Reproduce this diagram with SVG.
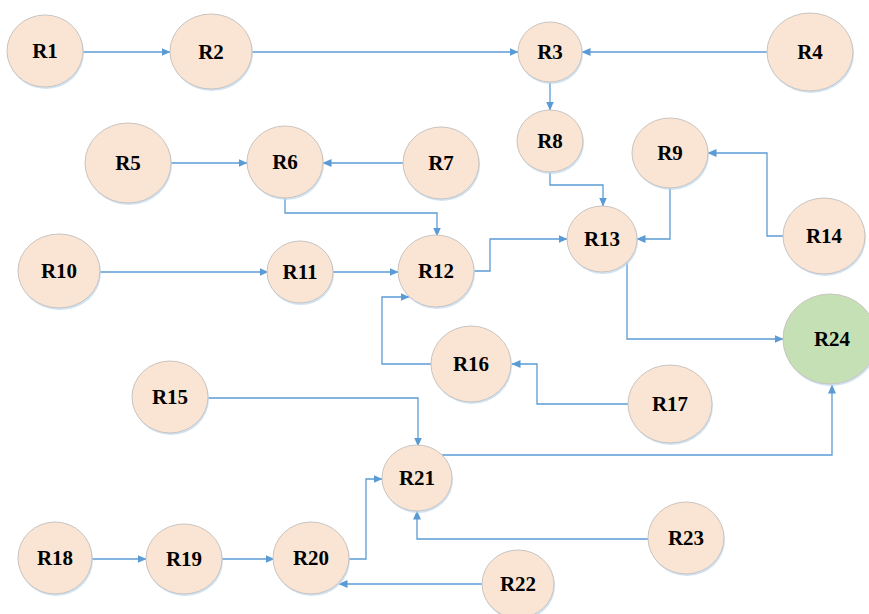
<svg xmlns="http://www.w3.org/2000/svg" width="869" height="614" viewBox="0 0 869 614">
<style>
.n{fill:#FAE5D5;stroke:#C9C4C0;stroke-width:1}
.g{fill:#C5E0B4;stroke:#C9C4C0;stroke-width:1}
.s{fill:#BDD7EE;opacity:0.7}
.t{font-family:"Liberation Serif","Times New Roman",serif;font-weight:bold;font-size:21px;fill:#000;text-anchor:middle}
.c{fill:none;stroke:#5B9BD5;stroke-width:1.3;marker-end:url(#a)}
</style>
<defs>
<marker id="a" markerUnits="userSpaceOnUse" markerWidth="9" markerHeight="8" refX="8.5" refY="4" orient="auto">
<path d="M0,0 L9,4 L0,8 z" fill="#5B9BD5"/>
</marker>
</defs>
<rect width="869" height="614" fill="#fff"/>
<g id="connectors">
<path class="c" d="M83,52 H170"/>
<path class="c" d="M252,52 H518"/>
<path class="c" d="M767,52 H582"/>
<path class="c" d="M550,82 V110"/>
<path class="c" d="M550,172 V185 H603 V206"/>
<path class="c" d="M670,188 V239 H637"/>
<path class="c" d="M783,236 H767 V153 H708"/>
<path class="c" d="M171,163 H247"/>
<path class="c" d="M403,163 H323"/>
<path class="c" d="M285,198 V213 H437 V236"/>
<path class="c" d="M100,272 H268"/>
<path class="c" d="M333,272 H398"/>
<path class="c" d="M474,271 H490 V239 H567"/>
<path class="c" d="M431,364 H382 V297 H409"/>
<path class="c" d="M627,262 V339 H783"/>
<path class="c" d="M628,404 H537 V364 H512"/>
<path class="c" d="M208,398 H418 V446"/>
<path class="c" d="M349,559 H366 V479 H382"/>
<path class="c" d="M648,539 H417 V511"/>
<path class="c" d="M483,584 H339"/>
<path class="c" d="M442,455 H832 V385"/>
<path class="c" d="M92,559 H146"/>
<path class="c" d="M222,559 H274"/>
</g>
<g id="R1"><ellipse class="s" cx="46" cy="53" rx="38" ry="36"/><ellipse class="n" cx="45" cy="51" rx="38" ry="36"/><text class="t" x="45" y="58">R1</text></g>
<g id="R2"><ellipse class="s" cx="212" cy="53.5" rx="41" ry="37.5"/><ellipse class="n" cx="211" cy="51.5" rx="41" ry="37.5"/><text class="t" x="211" y="58.5">R2</text></g>
<g id="R3"><ellipse class="s" cx="551" cy="54" rx="32" ry="30"/><ellipse class="n" cx="550" cy="52" rx="32" ry="30"/><text class="t" x="550" y="59">R3</text></g>
<g id="R4"><ellipse class="s" cx="811" cy="54" rx="43" ry="39"/><ellipse class="n" cx="810" cy="52" rx="43" ry="39"/><text class="t" x="810" y="59">R4</text></g>
<g id="R5"><ellipse class="s" cx="129" cy="165" rx="43" ry="40"/><ellipse class="n" cx="128" cy="163" rx="43" ry="40"/><text class="t" x="128" y="170">R5</text></g>
<g id="R6"><ellipse class="s" cx="286" cy="164" rx="38" ry="36"/><ellipse class="n" cx="285" cy="162" rx="38" ry="36"/><text class="t" x="285" y="169">R6</text></g>
<g id="R7"><ellipse class="s" cx="442" cy="165" rx="38" ry="36"/><ellipse class="n" cx="441" cy="163" rx="38" ry="36"/><text class="t" x="441" y="170">R7</text></g>
<g id="R8"><ellipse class="s" cx="551" cy="143" rx="33" ry="31"/><ellipse class="n" cx="550" cy="141" rx="33" ry="31"/><text class="t" x="550" y="148">R8</text></g>
<g id="R9"><ellipse class="s" cx="671" cy="155" rx="38" ry="35"/><ellipse class="n" cx="670" cy="153" rx="38" ry="35"/><text class="t" x="670" y="160">R9</text></g>
<g id="R10"><ellipse class="s" cx="60" cy="273" rx="41" ry="37"/><ellipse class="n" cx="59" cy="271" rx="41" ry="37"/><text class="t" x="59" y="278">R10</text></g>
<g id="R11"><ellipse class="s" cx="301" cy="274" rx="33" ry="31"/><ellipse class="n" cx="300" cy="272" rx="33" ry="31"/><text class="t" x="300" y="279">R11</text></g>
<g id="R12"><ellipse class="s" cx="437" cy="273" rx="38" ry="36"/><ellipse class="n" cx="436" cy="271" rx="38" ry="36"/><text class="t" x="436" y="278">R12</text></g>
<g id="R13"><ellipse class="s" cx="603" cy="241" rx="35" ry="33"/><ellipse class="n" cx="602" cy="239" rx="35" ry="33"/><text class="t" x="602" y="246">R13</text></g>
<g id="R14"><ellipse class="s" cx="825" cy="238" rx="41" ry="38"/><ellipse class="n" cx="824" cy="236" rx="41" ry="38"/><text class="t" x="824" y="243">R14</text></g>
<g id="R15"><ellipse class="s" cx="171" cy="399" rx="38" ry="36"/><ellipse class="n" cx="170" cy="397" rx="38" ry="36"/><text class="t" x="170" y="404">R15</text></g>
<g id="R16"><ellipse class="s" cx="472" cy="366" rx="40" ry="38"/><ellipse class="n" cx="471" cy="364" rx="40" ry="38"/><text class="t" x="471" y="371">R16</text></g>
<g id="R17"><ellipse class="s" cx="671" cy="406" rx="42" ry="39"/><ellipse class="n" cx="670" cy="404" rx="42" ry="39"/><text class="t" x="670" y="411">R17</text></g>
<g id="R18"><ellipse class="s" cx="56" cy="560" rx="37" ry="36"/><ellipse class="n" cx="55" cy="558" rx="37" ry="36"/><text class="t" x="55" y="565">R18</text></g>
<g id="R19"><ellipse class="s" cx="185" cy="561" rx="38" ry="35"/><ellipse class="n" cx="184" cy="559" rx="38" ry="35"/><text class="t" x="184" y="566">R19</text></g>
<g id="R20"><ellipse class="s" cx="312" cy="560" rx="38" ry="36"/><ellipse class="n" cx="311" cy="558" rx="38" ry="36"/><text class="t" x="311" y="565">R20</text></g>
<g id="R21"><ellipse class="s" cx="418" cy="480" rx="35" ry="33"/><ellipse class="n" cx="417" cy="478" rx="35" ry="33"/><text class="t" x="417" y="485">R21</text></g>
<g id="R22"><ellipse class="s" cx="519" cy="586" rx="36" ry="34"/><ellipse class="n" cx="518" cy="584" rx="36" ry="34"/><text class="t" x="518" y="591">R22</text></g>
<g id="R23"><ellipse class="s" cx="687" cy="540" rx="38" ry="36"/><ellipse class="n" cx="686" cy="538" rx="38" ry="36"/><text class="t" x="686" y="545">R23</text></g>
<g id="R24"><ellipse class="s" cx="831" cy="341" rx="47" ry="45"/><ellipse class="g" cx="830" cy="339" rx="47" ry="45"/><text class="t" x="832" y="346">R24</text></g>
</svg>
